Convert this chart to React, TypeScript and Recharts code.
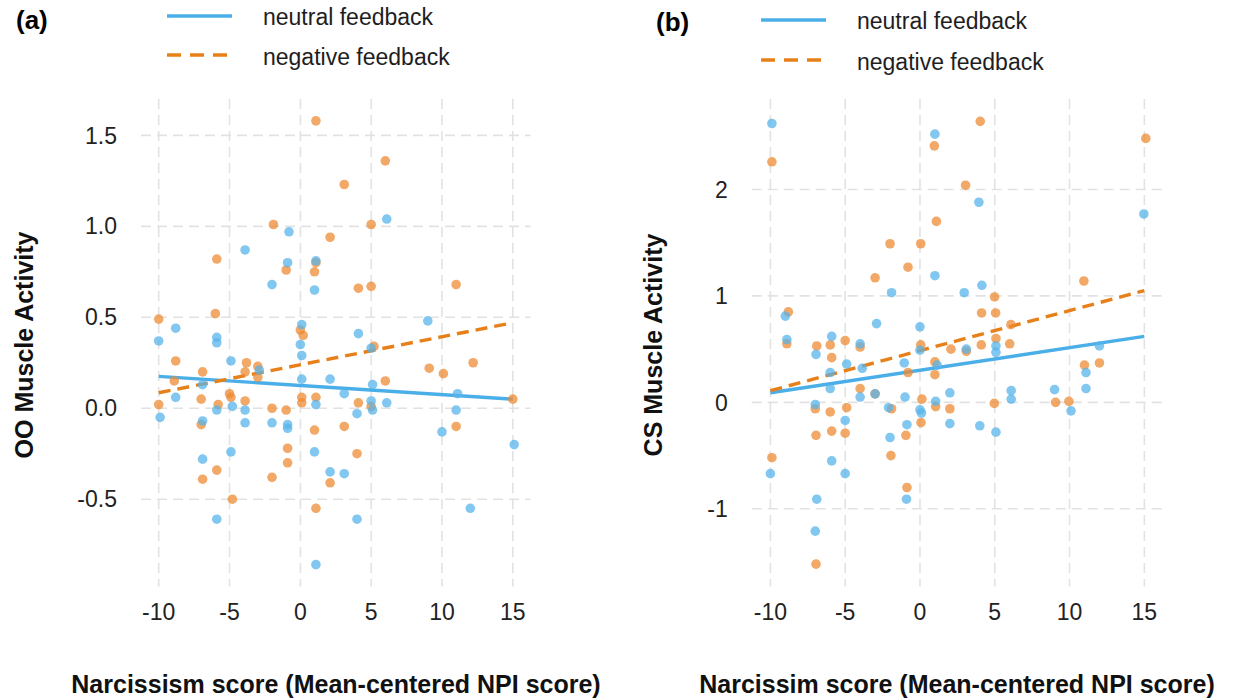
import { ComposedChart, Scatter, Line, XAxis, YAxis, CartesianGrid } from 'recharts'

const FONT = '"Liberation Sans", Arial, Helvetica, sans-serif'
const BLUE = '#56B4E9'
const ORANGE = '#EE8A30'
const BLUE_LINE = '#4AAFE8'
const ORANGE_LINE = '#E8801A'

// tick labels
const npiTicks = [-10, -5, 0, 5, 10, 15]
const ooTicks = [-0.5, 0, 0.5, 1, 1.5]
const csTicks = [-1, 0, 1, 2]

// (a) OO muscle, neutral feedback  [npi, activity]
const ooNeutral = [
  [-0.8, 0.97], [-3.9, 0.87], [-0.9, 0.8], [1.1, 0.81], [1.0, 0.65], [-2.0, 0.68],
  [-8.8, 0.44], [-10, 0.37], [-5.9, 0.39], [-5.9, 0.36], [0.1, 0.46], [0.0, 0.35],
  [0.1, 0.29], [-4.9, 0.26], [-2.9, 0.21], [-6.9, 0.13], [0.1, 0.16], [-8.8, 0.06],
  [-5.9, -0.01], [-4.8, 0.01], [-3.9, -0.01], [1.1, 0.02], [-9.9, -0.05], [-6.9, -0.07],
  [-3.9, -0.08], [-2.0, -0.08], [-0.9, -0.09], [-0.9, -0.11], [-4.9, -0.24], [1.0, -0.24],
  [-6.9, -0.28], [-5.9, -0.61], [1.1, -0.86], [6.1, 1.04], [9.0, 0.48], [4.1, 0.41],
  [5.0, 0.33], [2.1, 0.16], [5.1, 0.13], [3.1, 0.08], [11.1, 0.08], [5.0, 0.04],
  [5.1, -0.01], [6.1, 0.03], [11.0, -0.01], [4.0, -0.03], [10.0, -0.13], [15.1, -0.2],
  [2.1, -0.35], [3.1, -0.36], [12.0, -0.55], [4.0, -0.61],
]

// (a) OO muscle, negative feedback
const ooNegative = [
  [1.1, 1.58], [-1.9, 1.01], [-5.9, 0.82], [-1.0, 0.76], [1.1, 0.8], [1.0, 0.75],
  [-6.0, 0.52], [-10, 0.49], [0.0, 0.43], [0.2, 0.4], [-8.8, 0.26], [-3.8, 0.25],
  [-3.0, 0.23], [-3.9, 0.2], [-6.9, 0.2], [-8.9, 0.15], [-3.0, 0.17], [-5.0, 0.08],
  [-4.9, 0.06], [0.1, 0.06], [0.1, 0.03], [-7.0, 0.05], [-3.9, 0.04], [-10, 0.02],
  [-5.8, 0.02], [-2.0, 0.0], [-1.0, -0.01], [1.1, 0.06], [-7.0, -0.09], [1.0, -0.12],
  [-0.9, -0.22], [-0.9, -0.3], [-5.9, -0.34], [-2.0, -0.38], [-6.9, -0.39], [-4.8, -0.5],
  [1.1, -0.55], [6.0, 1.36], [3.1, 1.23], [5.0, 1.01], [2.1, 0.94], [4.1, 0.66],
  [5.0, 0.67], [11.0, 0.68], [5.2, 0.34], [9.1, 0.22], [10.1, 0.19], [12.2, 0.25],
  [6.0, 0.15], [4.1, 0.03], [5.0, 0.01], [15.0, 0.05], [3.1, -0.1], [11.0, -0.1],
  [4.0, -0.25], [2.1, -0.41],
]

// (b) CS muscle, neutral feedback
const csNeutral = [
  [-9.9, 2.62], [1.0, 2.52], [1.0, 1.19], [-1.9, 1.03], [-9.0, 0.81], [-2.9, 0.74],
  [0.0, 0.71], [-8.9, 0.59], [-5.9, 0.62], [-4.0, 0.55], [0.0, 0.49], [-6.95, 0.45],
  [-4.9, 0.36], [-3.86, 0.32], [-1.05, 0.37], [1.15, 0.35], [-6.0, 0.28], [-6.0, 0.13],
  [-4.0, 0.05], [-3.0, 0.08], [-1.0, 0.05], [1.05, 0.01], [2.0, 0.09], [-7.0, -0.02],
  [-2.1, -0.05], [0.0, -0.07], [0.1, -0.1], [-5.0, -0.17], [-0.87, -0.21], [2.0, -0.2],
  [-2.0, -0.33], [-5.9, -0.55], [-10.0, -0.67], [-5.0, -0.67], [-0.9, -0.91], [-6.9, -0.91],
  [-7.0, -1.21], [3.94, 1.88], [14.97, 1.77], [2.96, 1.03], [4.14, 1.1], [5.08, 0.53],
  [5.08, 0.47], [3.1, 0.5], [12.0, 0.53], [11.1, 0.28], [11.1, 0.13], [9.0, 0.12],
  [10.1, -0.08], [6.1, 0.11], [6.1, 0.03], [4.0, -0.22], [5.08, -0.28],
]

// (b) CS muscle, negative feedback
const csNegative = [
  [-9.9, 2.26], [0.96, 2.41], [1.1, 1.7], [-2.0, 1.49], [0.05, 1.49], [-0.8, 1.27],
  [-3.0, 1.17], [-8.8, 0.85], [-8.9, 0.55], [-6.9, 0.53], [-6.0, 0.54], [-5.0, 0.58],
  [-4.0, 0.52], [0.05, 0.54], [2.07, 0.5], [-5.9, 0.42], [-0.8, 0.28], [1.0, 0.38],
  [1.0, 0.26], [-4.0, 0.13], [-3.0, 0.08], [0.13, 0.03], [1.05, -0.04], [2.0, -0.06],
  [-7.0, -0.06], [-6.0, -0.09], [-4.9, -0.05], [-1.9, -0.06], [0.07, -0.19], [-6.95, -0.31],
  [-5.9, -0.27], [-5.0, -0.29], [-0.94, -0.31], [-1.94, -0.5], [-9.9, -0.52], [-0.87, -0.8],
  [-6.95, -1.52], [4.03, 2.64], [15.1, 2.48], [3.05, 2.04], [10.96, 1.14], [4.99, 0.99],
  [4.12, 0.84], [5.06, 0.84], [6.08, 0.73], [5.08, 0.6], [4.1, 0.54], [6.0, 0.55],
  [3.1, 0.48], [11.0, 0.35], [12.0, 0.37], [9.07, 0.0], [9.96, 0.01], [4.97, -0.01],
]

// fitted regression lines, end points
const ooNeutralFit = [[-10, 0.175], [15, 0.05]]
const ooNegativeFit = [[-10, 0.085], [15, 0.47]]
const csNeutralFit = [[-10, 0.09], [15, 0.62]]
const csNegativeFit = [[-10, 0.11], [15, 1.05]]

const toPoints = (arr: number[][]) => arr.map(([x, y]) => ({ x, y }))

const dotShape = (fill: string) => (props: any) => (
  <circle cx={props.cx} cy={props.cy} r={4.8} fill={fill} fillOpacity={0.74} />
)

const tickStyle = { fill: '#222', fontSize: 23, fontFamily: FONT }

interface PanelProps {
  width: number
  right: number
  yWidth: number
  yDomain: [number, number]
  yTicks: number[]
  decimals: number
  neutral: number[][]
  negative: number[][]
  neutralFit: number[][]
  negativeFit: number[][]
}

function Panel(p: PanelProps) {
  return (
    <ComposedChart
      width={p.width}
      height={700}
      margin={{ top: 99, right: p.right, bottom: 53.5, left: 0 }}
    >
      <CartesianGrid stroke="#e2e2e2" strokeWidth={1.6} strokeDasharray="10 6" syncWithTicks />
      <XAxis
        dataKey="x"
        type="number"
        domain={[-11.25, 16.25]}
        ticks={npiTicks}
        axisLine={false}
        tickLine={false}
        tickSize={0}
        tickMargin={17}
        height={60}
        tick={tickStyle}
        allowDataOverflow
      />
      <YAxis
        dataKey="y"
        type="number"
        domain={p.yDomain}
        ticks={p.yTicks}
        axisLine={false}
        tickLine={false}
        tickSize={0}
        tickMargin={24}
        width={p.yWidth}
        tick={tickStyle}
        tickFormatter={(v: number) => v.toFixed(p.decimals)}
        allowDataOverflow
      />
      <Scatter data={toPoints(p.negative)} shape={dotShape(ORANGE)} isAnimationActive={false} />
      <Scatter data={toPoints(p.neutral)} shape={dotShape(BLUE)} isAnimationActive={false} />
      <Line
        data={toPoints(p.neutralFit)}
        dataKey="y"
        stroke={BLUE_LINE}
        strokeWidth={3.4}
        dot={false}
        activeDot={false}
        isAnimationActive={false}
      />
      <Line
        data={toPoints(p.negativeFit)}
        dataKey="y"
        stroke={ORANGE_LINE}
        strokeWidth={3.4}
        strokeDasharray="12 7"
        dot={false}
        activeDot={false}
        isAnimationActive={false}
      />
    </ComposedChart>
  )
}

function Legend({ x, y, gap }: { x: number; y: number; gap: number }) {
  return (
    <g fontFamily={FONT} fontSize={23} fill="#1e1e1e">
      <line x1={x} x2={x + 65} y1={y} y2={y} stroke={BLUE_LINE} strokeWidth={3.4} />
      <text x={x + 96} y={y + 1} dominantBaseline="central">neutral feedback</text>
      <line
        x1={x}
        x2={x + 60}
        y1={y + gap}
        y2={y + gap}
        stroke={ORANGE_LINE}
        strokeWidth={3.4}
        strokeDasharray="14 9"
      />
      <text x={x + 96} y={y + gap + 2} dominantBaseline="central">negative feedback</text>
    </g>
  )
}

export default function App() {
  return (
    <div style={{ position: 'absolute', left: 0, top: 0, width: 1237, height: 700, background: '#fff' }}>
      <div style={{ position: 'absolute', left: 0, top: 0 }}>
        <Panel
          width={620}
          right={89.5}
          yWidth={141}
          yDomain={[-0.98, 1.7]}
          yTicks={ooTicks}
          decimals={1}
          neutral={ooNeutral}
          negative={ooNegative}
          neutralFit={ooNeutralFit}
          negativeFit={ooNegativeFit}
        />
      </div>
      <div style={{ position: 'absolute', left: 620, top: 0 }}>
        <Panel
          width={617}
          right={74}
          yWidth={131.7}
          yDomain={[-1.73, 2.85]}
          yTicks={csTicks}
          decimals={0}
          neutral={csNeutral}
          negative={csNegative}
          neutralFit={csNeutralFit}
          negativeFit={csNegativeFit}
        />
      </div>
      <svg
        width={1237}
        height={700}
        style={{ position: 'absolute', left: 0, top: 0, pointerEvents: 'none' }}
      >
        <text x={16} y={20} fontFamily={FONT} fontSize={26} fontWeight="bold" dominantBaseline="central">(a)</text>
        <text x={656} y={22} fontFamily={FONT} fontSize={26} fontWeight="bold" dominantBaseline="central">(b)</text>
        <Legend x={167} y={16} gap={39} />
        <Legend x={761} y={20} gap={40} />
        <g fontFamily={FONT} fontSize={25} fontWeight="bold" fill="#111" textAnchor="middle">
          <text x={336} y={684} dominantBaseline="central">Narcissism score (Mean-centered NPI score)</text>
          <text x={957} y={684} dominantBaseline="central">Narcissim score (Mean-centered NPI score)</text>
          <text x={24} y={345} dominantBaseline="central" transform="rotate(-90 24 345)">OO Muscle Activity</text>
          <text x={653} y={345} dominantBaseline="central" transform="rotate(-90 653 345)">CS Muscle Activity</text>
        </g>
      </svg>
    </div>
  )
}
